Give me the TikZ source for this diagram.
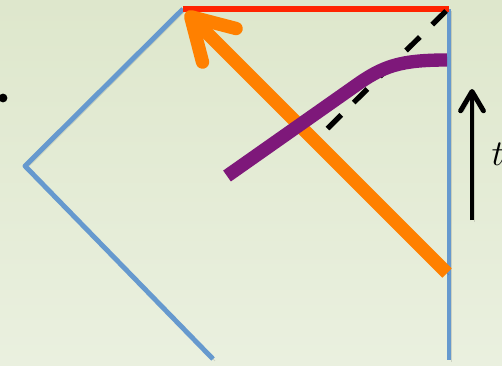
\documentclass[tikz,border=0pt]{standalone}
\usetikzlibrary{arrows.meta}
\definecolor{Sky}{RGB}{102,153,206}
\definecolor{Flame}{RGB}{255,36,0}
\definecolor{Amber}{RGB}{255,128,0}
\definecolor{Plum}{RGB}{126,24,122}
\definecolor{BgTop}{RGB}{222,231,204}
\definecolor{BgBot}{RGB}{234,240,223}

\begin{document}
\begin{tikzpicture}[x=.02cm,y=-.02cm,
 shd/.style={preaction={draw=black,opacity=.12,transform canvas={shift={(1.2pt,-1.2pt)}}}},
 wl/.style={shd,line width=2.8pt,Sky},
 hz/.style={line width=3pt,Flame},
 dsh/.style={line width=3pt,dash pattern=on 11pt off 10pt},
 ray/.style={shd,line width=7.6pt,Amber,-{Straight Barb[length=23pt,width=27pt,round]}},
 obs/.style={line width=7.6pt,Plum},
 ta/.style={shd,line width=2.8pt,-{Straight Barb[length=11pt,width=13pt,round]}}]
\shade[top color=BgTop,bottom color=BgBot] (0,0) rectangle (502,365);
\useasboundingbox (0,0) rectangle (502,365);
% corners of the diagram
\coordinate (n) at (183,9);
\coordinate (w) at (25,166);
\coordinate (s) at (213,359);
\coordinate (ne) at (449,9);
\coordinate (se) at (449,360);
\coordinate (d1) at (446,11);
\coordinate (d2) at (327,129);
\coordinate (o1) at (447,273);
\coordinate (o2) at (186,12);
\coordinate (p1) at (227,176);
\coordinate (p2) at (355,86);
\coordinate (p3) at (447,60);
\coordinate (t1) at (472,220);
\coordinate (t2) at (472,89);
\node[circle,fill,inner sep=0pt,minimum size=5pt] (dot) at (3,98) {};
\node[font=\fontsize{20}{24}\selectfont] (lbl) at (498,154) {$t$};
\draw[wl,line join=round] (n)--(w)--(s);
\draw[wl] (ne)--(se);
\draw[hz] (n)--(ne);
\draw[dsh] (d1)--(d2);
\draw[ray] (o1)--(o2);
\draw[obs] (p1)--(p2) .. controls (383,66) and (400,60) .. (p3);
\draw[ta] (t1)--(t2);
\end{tikzpicture}
\end{document}
